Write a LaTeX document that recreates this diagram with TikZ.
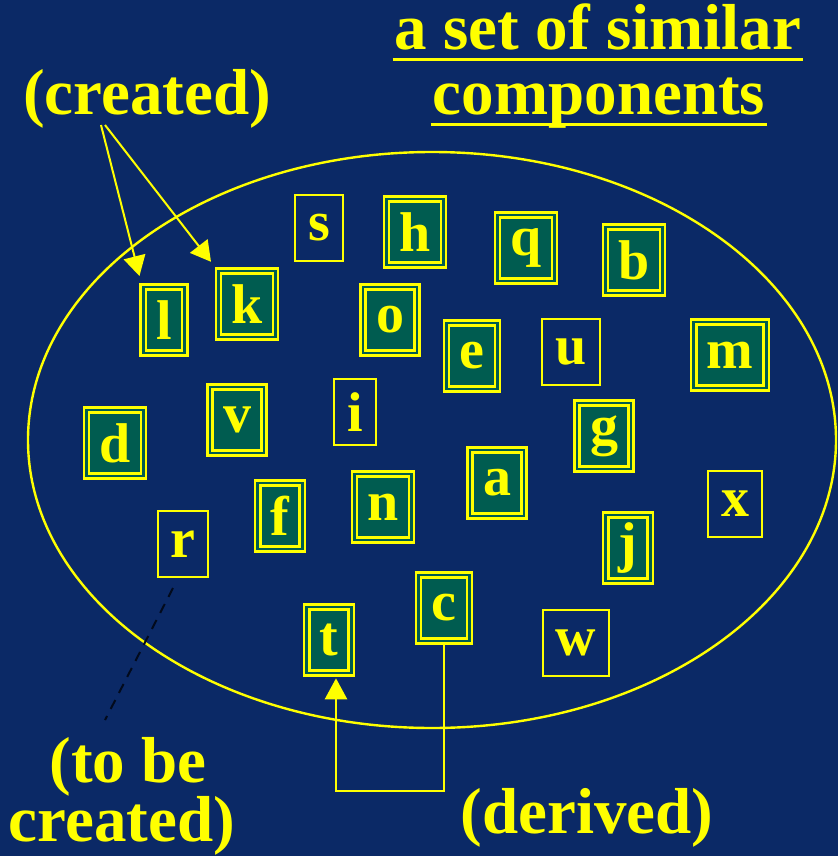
\documentclass[tikz,border=0pt]{standalone}
\usepackage{fontspec}
\setmainfont{Liberation Serif}
\usetikzlibrary{arrows.meta,positioning,calc}
\definecolor{navy}{HTML}{0B2966}
\definecolor{compgreen}{HTML}{005C50}
\definecolor{hiyellow}{HTML}{FFFF00}
\definecolor{dashdark}{HTML}{020A1C}
\newcommand\boxfont{\fontsize{56}{60}\selectfont\bfseries}
\newcommand\notefont{\fontsize{65}{70}\selectfont\bfseries}
\tikzset{
  made/.style={draw=hiyellow, line width=2.6pt, double=compgreen, double distance=2.6pt,
    fill=compgreen, text=hiyellow, font=\boxfont, minimum height=66pt, inner xsep=13pt, inner ysep=2pt},
  todo/.style={draw=hiyellow, line width=2pt, text=hiyellow, font=\boxfont,
    minimum height=66pt, inner xsep=13pt, inner ysep=2pt},
  note/.style={text=hiyellow, font=\notefont, inner sep=0pt, anchor=base},
  uline/.style={draw=hiyellow, line width=3pt},
  pointer/.style={draw=hiyellow, line width=2pt, -{Triangle[length=20pt,width=22pt]}, shorten >=10pt},
  derive/.style={draw=hiyellow, line width=2.6pt, -{Triangle[length=21pt,width=22pt]}, shorten >=4pt}
}

\begin{document}
\begin{tikzpicture}[x=1pt,y=-1pt]
\useasboundingbox (0,0) rectangle (838,856);
\fill[navy] (0,0) rectangle (838,856);
% the set
\draw[hiyellow, line width=2.4pt] (432,440) ellipse [x radius=404pt, y radius=288pt];

% title
\node[note] (title1) at (598,50) {a set of similar};
\node[note] (title2) at (599,115) {components};
\draw[uline] ([xshift=-2pt,yshift=-10pt]title1.base west) -- ([xshift=2pt,yshift=-10pt]title1.base east);
\draw[uline] ([xshift=-2pt,yshift=-10pt]title2.base west) -- ([xshift=2pt,yshift=-10pt]title2.base east);

% components
\node[todo] (s) at (319,228) {s};
\node[made] (h) at (415,232) {h};
\node[made] (q) at (526,248) {q};
\node[made] (b) at (634,260) {b};
\node[made] (l) at (164,320) {l};
\node[made] (k) at (247,304) {k};
\node[made] (o) at (390,320) {o};
\node[made] (e) at (472,356) {e};
\node[todo] (u) at (571,352) {u};
\node[made] (m) at (730,355) {m};
\node[made] (d) at (115,443) {d};
\node[made] (v) at (237,420) {v};
\node[todo] (i) at (355,412) {i};
\node[made] (g) at (604,436) {g};
\node[todo] (x) at (735,504) {x};
\node[made] (a) at (497,483) {a};
\node[made] (n) at (383,507) {n};
\node[made] (f) at (280,516) {f};
\node[todo] (r) at (183,544) {r};
\node[made] (j) at (628,548) {j};
\node[made] (c) at (444,608) {c};
\node[made] (t) at (329,640) {t};
\node[todo] (w) at (576,643) {w};

% (created)
\node[note] (created) at (147,115) {(created)};
\coordinate (crA) at (101,125);
\coordinate (crB) at (105,125);
\draw[pointer] (crA) -- (l.north west);
\draw[pointer] (crB) -- (k.north west);

% (to be created)
\node[note] (tobe1) at (128,782) {(to be};
\node[note] (tobe2) at (122,841) {created)};
\coordinate (rtail) at (105,720);
\draw[dashdark, line width=2pt, dash pattern=on 10pt off 8pt] ([xshift=-10pt,yshift=-10pt]r.south) -- (rtail);

% (derived)
\node[note] (derived) at (587,833) {(derived)};
\coordinate (dbend) at (336,791);
\draw[derive] (c.south) |- (dbend) -- (dbend |- t.south);
\end{tikzpicture}
\end{document}
